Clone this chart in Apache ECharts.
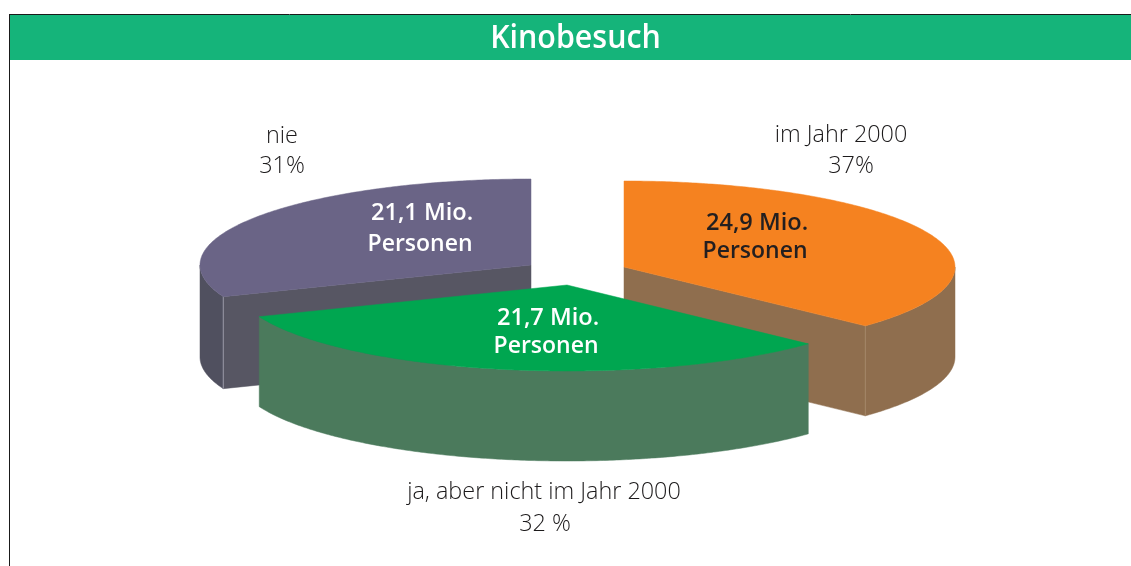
<!DOCTYPE html>
<html><head><meta charset="utf-8">
<style>html,body{margin:0;padding:0;background:#fff}#c{width:1131px;height:566px}</style>
<script src="https://cdn.jsdelivr.net/npm/echarts@6/dist/echarts.min.js"></script>
</head><body><div id="c"></div>
<script>
// Data
const categories = ['im Jahr 2000', 'ja, aber nicht im Jahr 2000', 'nie'];
const shares = [37, 32, 31];
const shareLabels = ['37%', '32 %', '31%'];
const people = ['24,9 Mio.', '21,7 Mio.', '21,1 Mio.'];
const unit = 'Personen';
const titleText = 'Kinobesuch';

// Styles and layout
const topColors = ['#f58220', '#00a650', '#6a6486'];
const wallColors = ['#8f6e4e', '#4b7a5c', '#50505f'];
const faceColors = ['#8f6e4e', '#4b7a5c', '#575663'];
const edgeColors = ['#a88a6c', '#4b7a5c', '#a9a8b6'];
const innerTextColors = ['#231f20', '#ffffff', '#ffffff'];
const centers = [[624, 267], [567, 285], [531, 265]];
const depths = [90, 90, 92];
const outerLabelPos = [[[841, 135], [851, 166]], [[544, 492], [545, 524]], [[282, 136], [282, 166]]];
const innerLabelPos = [[[757, 223], [755, 251]], [[548, 318], [546, 346]], [[422, 213], [420, 244]]];
const RX = 331, RY = 86;
const FONT = '"Open Sans", "Noto Sans", sans-serif';
const drawOrder = [2, 0, 1];

const total = shares.reduce((a, b) => a + b, 0);
function startAngle(i) {
  return shares.slice(0, i).reduce((a, b) => a + b, 0) / total * Math.PI * 2;
}
function arcPoints(c, a0, a1, dy) {
  const pts = [];
  const n = Math.max(2, Math.ceil((a1 - a0) / 0.01));
  for (let k = 0; k <= n; k++) {
    const a = a0 + (a1 - a0) * k / n;
    pts.push([c[0] + RX * Math.sin(a), c[1] - RY * Math.cos(a) + dy]);
  }
  return pts;
}
function poly(points, fill, stroke, z2) {
  return { type: 'polygon', z2, shape: { points },
    style: { fill, stroke: stroke || fill, lineWidth: stroke ? 0.8 : 0.5 } };
}
function text(str, pos, fontSize, fontWeight, fill, z2) {
  return { type: 'text', z2, x: pos[0], y: pos[1],
    style: { text: str, fontFamily: FONT, fontSize, fontWeight, fill, align: 'center', verticalAlign: 'middle' } };
}
function renderSlice(params, api) {
  const i = api.value(0);
  const share = api.value(1);
  const c = centers[i];
  const d = depths[i];
  const a0 = startAngle(i);
  const a1 = a0 + share / total * Math.PI * 2;
  const base = params.dataIndex * 10;
  const children = [];
  // Outer wall: the part of the rim that faces the viewer (angles 90°..270°)
  const w0 = Math.max(a0, Math.PI / 2), w1 = Math.min(a1, Math.PI * 1.5);
  if (w1 > w0) {
    const top = arcPoints(c, w0, w1, 0), bottom = arcPoints(c, w0, w1, d).reverse();
    children.push(poly(top.concat(bottom), wallColors[i], null, base));
  }
  // Visible cut face: the one whose radius leaves the centre towards the viewer
  const faceAngles = [a0, a1].filter(a => Math.cos(a) < 0 && a !== Math.PI);
  if (i !== 1) {
    faceAngles.forEach(a => {
      const p = arcPoints(c, a, a, 0)[0];
      children.push(poly([c, p, [p[0], p[1] + d], [c[0], c[1] + d]], faceColors[i], null, base + 1));
      children.push({ type: 'polyline', z2: base + 2, shape: { points: [p, [p[0], p[1] + d]] },
        style: { fill: 'none', stroke: edgeColors[i], lineWidth: 0.8 } });
    });
  }
  // Top face
  children.push(poly([c].concat(arcPoints(c, a0, a1, 0)), topColors[i], null, base + 3));
  // Labels
  const op = outerLabelPos[i], ip = innerLabelPos[i];
  children.push(text(categories[i], op[0], 23.4, 300, '#1c1a1b', 100));
  children.push(text(shareLabels[i], op[1], 23.4, 300, '#1c1a1b', 100));
  children.push(text(people[i], ip[0], 23.6, 600, innerTextColors[i], 100));
  children.push(text(unit, ip[1], 23, 600, innerTextColors[i], 100));
  return { type: 'group', children };
}

const chart = echarts.init(document.getElementById('c'), null, { renderer: 'canvas' });
chart.setOption({
  animation: false,
  backgroundColor: '#ffffff',
  graphic: [
    { type: 'rect', z: 1, shape: { x: 9, y: 15, width: 1122, height: 45 }, style: { fill: '#15b47a' } },
    { type: 'line', z: 2, shape: { x1: 9, y1: 14.5, x2: 1131, y2: 14.5 }, style: { stroke: '#1a1a1a', lineWidth: 1 } },
    { type: 'line', z: 2, shape: { x1: 9.5, y1: 14, x2: 9.5, y2: 566 }, style: { stroke: '#1a1a1a', lineWidth: 1 } },
    { type: 'text', z: 3, x: 575.5, y: 39, scaleX: 0.95,
      style: { text: titleText, fill: '#ffffff', fontFamily: FONT, fontSize: 32, fontWeight: 600,
               align: 'center', verticalAlign: 'middle' } }
  ],
  series: [{
    type: 'custom',
    coordinateSystem: 'none',
    renderItem: renderSlice,
    silent: true,
    data: drawOrder.map(i => [i, shares[i]])
  }]
});
</script></body></html>
